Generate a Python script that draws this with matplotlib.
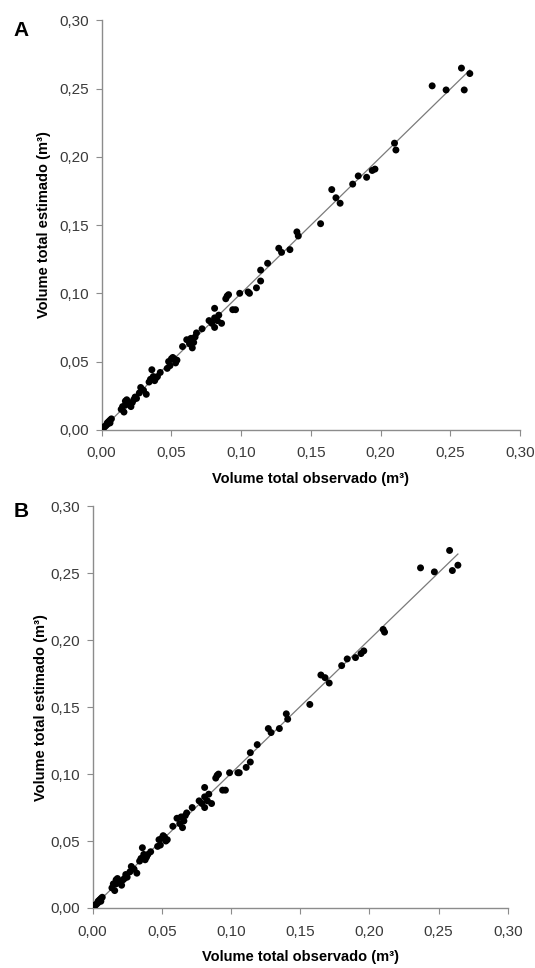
import numpy as np
import matplotlib
matplotlib.use("Agg")
import matplotlib.pyplot as plt
from matplotlib.ticker import FuncFormatter

plt.rcParams['font.family'] = ['Liberation Sans', 'DejaVu Sans']

# volume observado (m3) - igual nos dois painéis
observado = [0.000, 0.001, 0.002, 0.003, 0.004, 0.004, 0.005, 0.006, 0.006, 0.007,
             0.014, 0.015, 0.016, 0.017, 0.017, 0.018, 0.019, 0.020, 0.021, 0.022,
             0.023, 0.024, 0.025, 0.027, 0.028, 0.030, 0.032, 0.034, 0.035, 0.036,
             0.037, 0.038, 0.039, 0.040, 0.042, 0.047, 0.048, 0.049, 0.050, 0.051,
             0.052, 0.053, 0.054, 0.058, 0.061, 0.063, 0.064, 0.065, 0.066, 0.067,
             0.068, 0.072, 0.077, 0.079, 0.081, 0.081, 0.081, 0.083, 0.084, 0.086,
             0.089, 0.090, 0.091, 0.094, 0.096, 0.099, 0.105, 0.106, 0.111, 0.114,
             0.114, 0.119, 0.127, 0.129, 0.135, 0.140, 0.141, 0.157, 0.165, 0.168,
             0.171, 0.180, 0.184, 0.190, 0.194, 0.196, 0.210, 0.211, 0.237, 0.247,
             0.258, 0.260, 0.264]

# volume estimado, painel A
estimado_a = [0.001, 0.002, 0.002, 0.003, 0.004, 0.005, 0.006, 0.007, 0.005, 0.008,
              0.015, 0.017, 0.013, 0.021, 0.018, 0.022, 0.020, 0.019, 0.017, 0.020,
              0.022, 0.024, 0.023, 0.027, 0.031, 0.029, 0.026, 0.035, 0.037, 0.044,
              0.039, 0.036, 0.038, 0.039, 0.042, 0.045, 0.050, 0.047, 0.052, 0.053,
              0.052, 0.049, 0.051, 0.061, 0.066, 0.063, 0.067, 0.060, 0.064, 0.068,
              0.071, 0.074, 0.080, 0.078, 0.075, 0.082, 0.089, 0.080, 0.084, 0.078,
              0.096, 0.098, 0.099, 0.088, 0.088, 0.100, 0.101, 0.100, 0.104, 0.109,
              0.117, 0.122, 0.133, 0.130, 0.132, 0.145, 0.142, 0.151, 0.176, 0.170,
              0.166, 0.180, 0.186, 0.185, 0.190, 0.191, 0.210, 0.205, 0.252, 0.249,
              0.265, 0.249, 0.261]

# volume estimado, painel B
estimado_b = [0.001, 0.002, 0.002, 0.003, 0.004, 0.005, 0.006, 0.007, 0.005, 0.008,
              0.015, 0.018, 0.013, 0.021, 0.018, 0.022, 0.020, 0.019, 0.017, 0.021,
              0.022, 0.025, 0.023, 0.027, 0.031, 0.029, 0.026, 0.035, 0.037, 0.045,
              0.040, 0.036, 0.038, 0.040, 0.042, 0.046, 0.051, 0.047, 0.052, 0.054,
              0.053, 0.050, 0.051, 0.061, 0.067, 0.063, 0.068, 0.060, 0.065, 0.069,
              0.071, 0.075, 0.080, 0.078, 0.075, 0.083, 0.090, 0.080, 0.085, 0.078,
              0.097, 0.099, 0.100, 0.088, 0.088, 0.101, 0.101, 0.101, 0.105, 0.109,
              0.116, 0.122, 0.134, 0.131, 0.134, 0.145, 0.141, 0.152, 0.174, 0.172,
              0.168, 0.181, 0.186, 0.187, 0.190, 0.192, 0.208, 0.206, 0.254, 0.251,
              0.267, 0.252, 0.256]

ticks = [0.00, 0.05, 0.10, 0.15, 0.20, 0.25, 0.30]
cinza = "#8c8c8c"


def virgula(v, pos):
    return f"{v:.2f}".replace(".", ",")


def painel(ax, x, y, letra, pos_letra, pos_ylabel):
    x = np.array(x)
    y = np.array(y)
    # linha de ajuste
    coef = np.polyfit(x, y, 1)
    xs = np.array([0, x.max()])
    ax.plot(xs, np.polyval(coef, xs), color="#7a7a7a", lw=0.9, zorder=2)
    ax.scatter(x, y, s=25, color="black", edgecolors="none", zorder=3)

    ax.set_xlim(0, 0.30)
    ax.set_ylim(0, 0.30)
    ax.set_xticks(ticks)
    ax.set_yticks(ticks)
    ax.xaxis.set_major_formatter(FuncFormatter(virgula))
    ax.yaxis.set_major_formatter(FuncFormatter(virgula))
    for s in ["top", "right"]:
        ax.spines[s].set_visible(False)
    for s in ["left", "bottom"]:
        ax.spines[s].set_color(cinza)
        ax.spines[s].set_linewidth(1.0)
    ax.tick_params(direction="out", length=4, width=0.8, color=cinza,
                   labelsize=11, labelcolor="#3a3a3a", pad=5)
    ax.tick_params(axis="x", pad=8)
    ax.set_xlabel("Volume total observado (m³)", fontsize=10.5, fontweight="bold", labelpad=8)
    ax.set_ylabel("Volume total estimado (m³)", fontsize=10.5, fontweight="bold")
    ax.yaxis.set_label_coords(pos_ylabel, 0.5)
    fig.text(pos_letra[0], pos_letra[1], letra, fontsize=15, fontweight="bold",
             ha="left", va="center")


fig = plt.figure(figsize=(5.35, 9.68), dpi=100)
ax_a = fig.add_axes([0.190, 0.556, 0.782, 0.423])
ax_b = fig.add_axes([0.173, 0.062, 0.776, 0.415])

painel(ax_a, observado, estimado_a, "A", (0.025, 0.968), -0.12)
painel(ax_b, observado, estimado_b, "B", (0.025, 0.472), -0.108)

fig.savefig("out.png", dpi=100)
